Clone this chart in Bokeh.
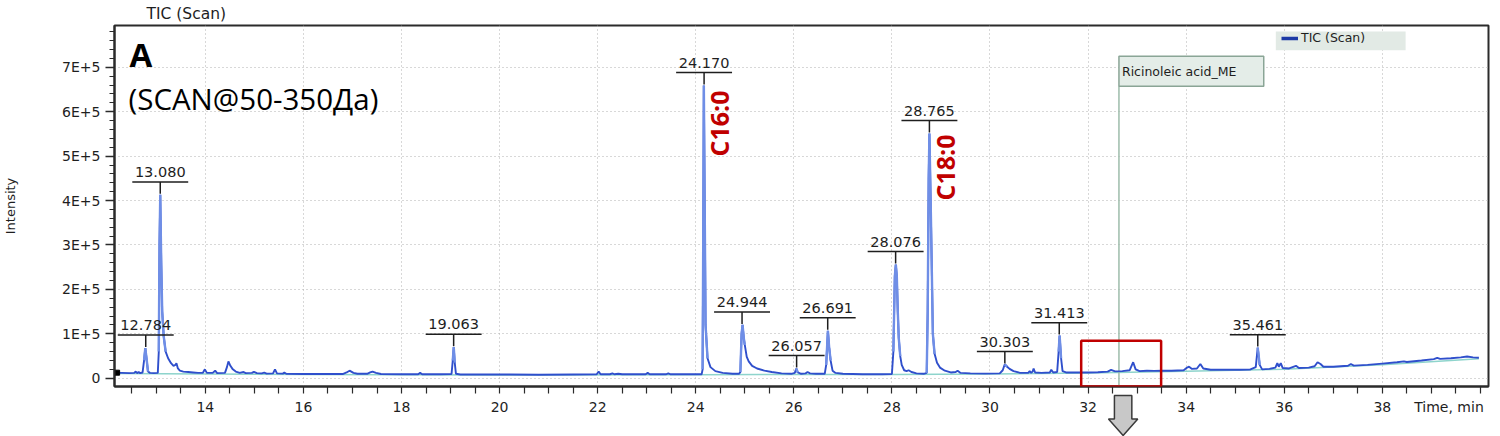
import math
import numpy as np
from bokeh.plotting import figure
from bokeh.layouts import column
from bokeh.models import (Range1d, FixedTicker, Label, BoxAnnotation, Legend, LegendItem)
from bokeh.embed import file_html
from bokeh.resources import INLINE

# ---------------- data ----------------
trace_time = [
    12.15, 12.30, 12.45, 12.55, 12.58, 12.61, 12.64, 12.67, 12.72, 12.75, 12.775, 12.80, 12.83, 12.87,
    12.95, 13.03, 13.05, 13.065, 13.08, 13.10, 13.12, 13.15, 13.19, 13.24, 13.30, 13.35, 13.39, 13.41,
    13.44, 13.48, 13.55, 13.65, 13.75, 13.85, 13.95, 13.99, 14.03, 14.15, 14.20, 14.24, 14.40, 14.44,
    14.47, 14.51, 14.56, 14.62, 14.70, 14.78, 14.82, 14.95, 14.99, 15.05, 15.15, 15.20, 15.25, 15.38,
    15.42, 15.46, 15.58, 15.61, 15.65, 16.0, 16.4, 16.8, 16.88, 16.94, 17.02, 17.10, 17.30, 17.36,
    17.41, 17.48, 17.58, 18.0, 18.34, 18.38, 18.42, 18.8, 19.02, 19.045, 19.065, 19.085, 19.11, 19.2,
    19.6, 20.2, 20.8, 21.5, 21.98, 22.02, 22.06, 22.25, 22.30, 22.34, 22.42, 22.5, 22.8, 22.98,
    23.02, 23.06, 23.40, 23.44, 23.48, 23.9, 24.12, 24.14, 24.15, 24.165, 24.185, 24.20, 24.24, 24.30,
    24.40, 24.55, 24.75, 24.88, 24.91, 24.935, 24.955, 24.98, 25.00, 25.04, 25.08, 25.15, 25.25, 25.40,
    25.55, 25.75, 25.95, 26.02, 26.05, 26.08, 26.15, 26.24, 26.28, 26.33, 26.45, 26.63, 26.66, 26.695,
    26.72, 26.75, 26.79, 26.85, 27.0, 27.4, 27.8, 28.00, 28.03, 28.06, 28.08, 28.10, 28.12, 28.14,
    28.17, 28.20, 28.25, 28.30, 28.34, 28.40, 28.50, 28.65, 28.71, 28.73, 28.75, 28.765, 28.79, 28.81,
    28.835, 28.87, 28.92, 28.98, 29.08, 29.20, 29.30, 29.34, 29.40, 29.6, 29.9, 30.20, 30.26, 30.30,
    30.35, 30.40, 30.48, 30.60, 30.78, 30.81, 30.84, 30.87, 30.89, 30.92, 31.05, 31.22, 31.25, 31.29,
    31.37, 31.40, 31.42, 31.45, 31.48, 31.55, 31.8, 32.0, 32.2, 32.40, 32.47, 32.55, 32.7, 32.85,
    32.92, 32.97, 33.05, 33.2, 33.35, 33.5, 33.7, 33.95, 34.02, 34.06, 34.12, 34.22, 34.29, 34.35,
    34.5, 34.7, 34.9, 35.1, 35.30, 35.42, 35.46, 35.50, 35.55, 35.70, 35.82, 35.86, 35.89, 35.93,
    35.97, 36.1, 36.24, 36.30, 36.5, 36.62, 36.68, 36.74, 36.8, 37.0, 37.3, 37.36, 37.42, 37.7,
    38.0, 38.3, 38.44, 38.5, 38.8, 39.05, 39.12, 39.18, 39.4, 39.6, 39.73, 39.85, 39.97,
]
trace_intensity = [
    12500, 12000, 11500, 12000, 15000, 11500, 14000, 11500, 13000, 40000, 68000, 45000, 15000, 12000,
    11500, 12000, 60000, 300000, 413000, 260000, 150000, 95000, 60000, 45000, 34000, 28000, 30000, 34000,
    22000, 17000, 15000, 14000, 13000, 12000, 12500, 20000, 12000, 12000, 17000, 11500, 12000, 25000,
    38000, 28000, 20000, 15000, 12000, 14000, 11500, 12000, 14500, 11500, 11000, 12500, 10500, 11000,
    20000, 11000, 10500, 12500, 10000, 9500, 9500, 9500, 13000, 17000, 12000, 10000, 10000, 13000,
    15000, 12000, 9500, 9000, 9000, 12000, 9000, 9000, 9500, 40000, 70000, 35000, 10000, 8500,
    8500, 8500, 8000, 8500, 9000, 15000, 9000, 9000, 11000, 9000, 10000, 9000, 9000, 9000,
    12000, 9000, 9000, 11000, 9000, 9000, 9000, 20000, 250000, 659000, 350000, 120000, 45000, 25000,
    16000, 12000, 10000, 10000, 14000, 100000, 120000, 90000, 75000, 48000, 38000, 28000, 22000, 17000,
    14000, 11000, 10000, 12000, 22000, 13000, 10000, 11000, 14000, 11000, 10000, 10000, 30000, 107000,
    70000, 40000, 17000, 12000, 10000, 9000, 9000, 9500, 60000, 230000, 256000, 230000, 150000, 90000,
    50000, 30000, 18000, 16000, 18000, 14000, 11000, 10000, 12000, 150000, 450000, 551000, 400000, 270000,
    100000, 55000, 35000, 24000, 17000, 13000, 14000, 17000, 12000, 11000, 10500, 11000, 18000, 31000,
    26000, 21000, 16000, 12500, 12000, 16000, 12000, 15000, 22000, 13000, 12000, 13000, 19000, 13000,
    14000, 60000, 96000, 45000, 16000, 13000, 13000, 13000, 13500, 15000, 19000, 15500, 16000, 18000,
    36000, 20000, 16000, 17000, 16500, 17000, 17000, 18000, 24000, 26000, 21000, 22000, 32000, 22000,
    19000, 19500, 19000, 19000, 19500, 25000, 69000, 30000, 20000, 21000, 24000, 34000, 26000, 34000,
    23000, 22000, 28000, 23000, 24000, 27000, 36000, 32000, 26000, 26000, 28000, 32000, 28500, 30000,
    33000, 36000, 38000, 36500, 40000, 43000, 46000, 43500, 45000, 47000, 49000, 47000, 46000,
]
baseline_time = [12.15, 16.0, 20.0, 24.0, 28.0, 30.0, 32.0, 34.0, 36.0, 38.0, 39.97]
baseline_intensity = [10500, 8500, 7500, 8000, 8500, 9500, 12000, 16000, 20000, 30500, 44000]

peak_rt = [12.784, 13.080, 19.063, 24.170, 24.944, 26.057, 26.691, 28.076, 28.765, 30.303, 31.413, 35.461]
peak_labels = ["12.784", "13.080", "19.063", "24.170", "24.944", "26.057", "26.691", "28.076",
               "28.765", "30.303", "31.413", "35.461"]
peak_start = [12.74, 13.04, 19.03, 24.13, 24.91, 26.03, 26.65, 28.01, 28.71, 30.27, 31.38, 35.43]
peak_end = [12.83, 13.20, 19.10, 24.26, 25.02, 26.08, 26.77, 28.18, 28.87, 30.36, 31.47, 35.51]

fa_labels = ["C16:0", "C18:0"]
fa_rt = [24.170, 28.765]

start_time = [12.20]
start_intensity = [12500]

marker_name = "Ricinoleic acid_ME"
marker_rt = 32.63
zoom_box_time = [31.86, 33.49]
zoom_box_top = 84500

x_ticks = [14, 16, 18, 20, 22, 24, 26, 28, 30, 32, 34, 36, 38]
x_tick_labels = ["14", "16", "18", "20", "22", "24", "26", "28", "30", "32", "34", "36", "38"]
y_ticks = [0, 100000, 200000, 300000, 400000, 500000, 600000, 700000]
y_tick_labels = ["0", "1E+5", "2E+5", "3E+5", "4E+5", "5E+5", "6E+5", "7E+5"]

series_name = "TIC (Scan)"
x_title = "Time, min"
x_title_at = 39.36          # the axis title sits in the tick-label row, at the right end
y_title = "Intensity"
panel_letter = "A"
panel_note = "(SCAN@50-350Да)"

# ---------------- layout ----------------
W, H = 1500, 436
ML, MR, MT, MB = 112, 12, 23, 50
FW, FH = W - ML - MR, H - MT - MB
X0, X1 = 12.147, 40.166
Y0, Y1 = -18600, 794200
PX = (X1 - X0) / FW      # data per pixel (x)
PY = (Y1 - Y0) / FH      # data per pixel (y)

UI_FONT = "DejaVu Sans"
INK = "#1e1e1e"

p = figure(width=W, height=H, title=series_name, output_backend="svg", toolbar_location=None,
           x_range=Range1d(X0, X1), y_range=Range1d(Y0, Y1),
           min_border_left=ML, min_border_right=MR, min_border_top=MT, min_border_bottom=MB)
p.background_fill_color = "white"
p.border_fill_color = None
p.outline_line_color = "#2b2b2b"
p.outline_line_width = 2

p.title.align = "left"
p.title.offset = 32
p.title.standoff = 5
p.title.text_font = UI_FONT
p.title.text_font_style = "normal"
p.title.text_font_size = "15.5px"
p.title.text_color = INK

x_minor = [12.5 + 0.5 * k for k in range(56)]
p.xaxis.ticker = FixedTicker(ticks=x_ticks + [x_title_at], minor_ticks=x_minor)
p.yaxis.ticker = FixedTicker(ticks=y_ticks, minor_ticks=[20000 * k for k in range(40)])
x_over = {k: v for k, v in zip(x_ticks, x_tick_labels)}
x_over[x_title_at] = x_title
p.xaxis.major_label_overrides = x_over
p.yaxis.major_label_overrides = {k: v for k, v in zip(y_ticks, y_tick_labels)}

for ax in (p.xaxis[0], p.yaxis[0]):
    ax.axis_line_color = "#2b2b2b"
    ax.axis_line_width = 2
    ax.major_tick_line_color = "#2b2b2b"
    ax.minor_tick_line_color = "#2b2b2b"
    ax.major_tick_line_width = 1.3
    ax.minor_tick_line_width = 1.2
    ax.major_tick_in = 0
    ax.minor_tick_in = 0
    ax.major_label_text_font = UI_FONT
    ax.major_label_text_font_size = "14px"
    ax.major_label_text_color = INK
    ax.major_label_standoff = 5
    ax.axis_label_text_font = UI_FONT
    ax.axis_label_text_font_style = "normal"
    ax.axis_label_text_color = INK

p.yaxis.major_tick_out = 9
p.yaxis.minor_tick_out = 5
p.xaxis.major_tick_out = 0          # tick marks come from the (0.5-min) minor ticks
p.xaxis.minor_tick_out = 7
p.xaxis.major_label_standoff = 5
p.yaxis.axis_label = y_title
p.yaxis.axis_label_text_font_size = "13px"
p.yaxis.axis_label_standoff = 41

p.xgrid[0].ticker = FixedTicker(ticks=x_ticks)
for g in (p.xgrid[0], p.ygrid[0]):
    g.grid_line_color = "#b0b0b0"
    g.grid_line_dash = "1 3"
    g.grid_line_width = 1

# ---------------- traces ----------------
t = np.array(trace_time)
inten = np.array(trace_intensity)

p.line(baseline_time, baseline_intensity, color="#8ed4cc", line_width=1.5)
p.segment(x0=[marker_rt], y0=[Y0], x1=[marker_rt],
          y1=[Y1 - (84 - 23) * PY], color="#9dbcab", line_width=1.5)
p.line(trace_time, trace_intensity, color="#2f4fcc", line_width=1.9)

xs, ys, apex = [], [], []
for s, e in zip(peak_start, peak_end):
    m = (t >= s) & (t <= e)
    xs.append(t[m].tolist())
    ys.append(inten[m].tolist())
    apex.append(float(inten[m].max()))
p.multi_line(xs, ys, color="#6f8ee6", line_width=2.4)

p.scatter(start_time, start_intensity, marker="square", size=5, color="black")

# peak labels: text over a bar, tick down to apex
line_y = [a + 13 * PY for a in apex]
p.segment(x0=[r - 28 * PX for r in peak_rt], x1=[r + 28 * PX for r in peak_rt],
          y0=line_y, y1=line_y, color=INK, line_width=1.5)
p.segment(x0=peak_rt, x1=peak_rt, y0=line_y, y1=[a + 1 * PY for a in apex], color=INK, line_width=1.5)
p.text(x=peak_rt, y=[ly + 10 * PY for ly in line_y], text=peak_labels, text_align="center",
       text_baseline="middle", text_font_size="14.5px", text_color=INK,
       text_font={"value": UI_FONT})

# fatty acid labels
fa_dx = [15, 16]
fa_dy = [-38, -34]
for lab, rt, dx, dy in zip(fa_labels, fa_rt, fa_dx, fa_dy):
    a = apex[peak_rt.index(rt)]
    p.add_layout(Label(x=rt, y=a, x_offset=dx, y_offset=dy, text=lab, angle=math.pi / 2,
                       text_align="center", text_baseline="middle", text_font="Open Sans",
                       text_font_style="bold", text_font_size="25px", text_color="#c00000"))

# marker box
p.add_layout(BoxAnnotation(left=marker_rt, right=marker_rt + 145 * PX,
                           top=Y1 - (54 - 23) * PY, bottom=Y1 - (84 - 23) * PY,
                           fill_color="#e4ede8", fill_alpha=1, line_color="#8aa596",
                           line_alpha=1, line_width=1.5))
p.add_layout(Label(x=marker_rt, y=Y1 - (69.5 - 23) * PY, x_offset=3, text=marker_name,
                   text_baseline="middle", text_font=UI_FONT, text_font_size="12.5px", text_color=INK))

# zoom box
p.add_layout(BoxAnnotation(left=zoom_box_time[0], right=zoom_box_time[1], top=zoom_box_top, bottom=Y0,
                           fill_alpha=0, line_color="#c00000", line_alpha=1, line_width=2.5))

# legend
lb_left, lb_right, lb_top, lb_bot = 1275 - 112, 1405 - 112, 29 - 23, 48 - 23
p.add_layout(BoxAnnotation(left=X0 + lb_left * PX, right=X0 + lb_right * PX,
                           top=Y1 - lb_top * PY, bottom=Y1 - lb_bot * PY,
                           fill_color="#e2eae5", fill_alpha=1, line_alpha=0))
leg_r = p.line([X0 - 5, X0 - 4], [0, 0], color="#1d3aa6", line_width=3.5)
legend = Legend(items=[LegendItem(label=series_name, renderers=[leg_r])],
                location=(lb_left + 1, FH - lb_bot), background_fill_alpha=0, border_line_alpha=0,
                label_text_font=UI_FONT, label_text_font_size="12.5px", label_text_color=INK,
                glyph_width=17, glyph_height=12, label_height=12, padding=3, margin=0,
                spacing=0, label_standoff=3)
p.add_layout(legend)

# panel texts
p.add_layout(Label(x=X0, y=Y1, x_offset=15, y_offset=-29, text=panel_letter, text_baseline="middle",
                   text_font="Open Sans", text_font_style="bold", text_font_size="33px", text_color="black"))
p.add_layout(Label(x=X0, y=Y1, x_offset=14, y_offset=-73, text=panel_note, text_baseline="middle",
                   text_font="Open Sans", text_font_size="29.5px", text_color="black"))

# ---------------- transparent overlay with the same data mapping (for the arrow below the axis) ----------------
ov = figure(width=W, height=H, title=None, output_backend="svg", toolbar_location=None,
            x_range=Range1d(X0 - ML * PX, X1 + MR * PX), y_range=Range1d(Y0 - MB * PY, Y1 + MT * PY),
            min_border=0, x_axis_location=None, y_axis_location=None)
ov.outline_line_color = None
ov.background_fill_color = None
ov.border_fill_color = None
ov.grid.grid_line_color = None
cx = (zoom_box_time[0] + zoom_box_time[1]) / 2
nudge = -19   # visual correction for the overlay placement
arrow_dx = [-9.5, 9.5, 9.5, 16, 0, -16, -9.5]
arrow_dy = [9, 9, 32.5, 32.5, 49, 32.5, 32.5]
ov.patch(x=[cx + (d + nudge) * PX for d in arrow_dx], y=[Y0 - d * PY for d in arrow_dy],
         fill_color="#c8c8c8", line_color="#3a3a3a", line_width=1.5)
ov.margin = (-H, 0, 0, 0)

layout = column(p, ov, spacing=0)
open("out.html", "w").write(file_html(layout, INLINE))
